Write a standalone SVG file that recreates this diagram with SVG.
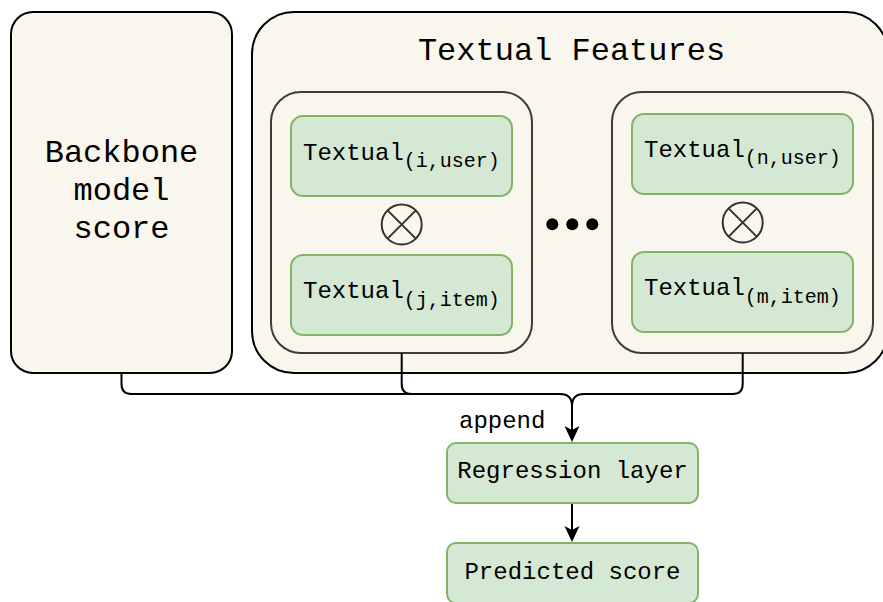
<svg xmlns="http://www.w3.org/2000/svg" width="883" height="602" viewBox="0 0 883 602">
<defs>
<style>
.cream{fill:#f9f7ed;stroke:#000;stroke-width:2}
.inner{fill:#f9f7ed;stroke:#3c3c3c;stroke-width:2}
.green{fill:#d5e8d4;stroke:#82b366;stroke-width:2}
.mono{font-family:"Liberation Mono","DejaVu Sans Mono",monospace;fill:#000}
.t32{font-size:32px}
.t24{font-size:24px}
.sub{font-size:20px}
.conn{fill:none;stroke:#000;stroke-width:2}
.otimes{fill:none;stroke:#333;stroke-width:2}
</style>
<marker id="arr" markerUnits="userSpaceOnUse" viewBox="0 0 16 16" refX="4" refY="8" markerWidth="16" markerHeight="16" orient="auto">
<path d="M0,0.5 L16,8 L0,15.5 L4,8 Z" fill="#000"/>
</marker>
</defs>
<rect width="883" height="602" fill="#fff"/>

<g id="backbone">
<rect class="cream" x="11" y="12" width="221" height="361" rx="22"/>
<text class="mono t32" text-anchor="middle" x="121.5" y="162">Backbone</text>
<text class="mono t32" text-anchor="middle" x="121.5" y="200">model</text>
<text class="mono t32" text-anchor="middle" x="121.5" y="238">score</text>
</g>

<g id="textual-features">
<rect class="cream" x="252" y="12" width="636" height="361" rx="42"/>
<text class="mono t32" text-anchor="middle" x="571.5" y="60">Textual Features</text>
</g>

<g id="pair-1">
<rect class="inner" x="271" y="92" width="261" height="261" rx="30"/>
</g>
<g id="textual-i-user">
<rect class="green" x="291" y="116" width="221" height="80" rx="12"/>
<text class="mono t24" x="303" y="160">Textual<tspan class="sub" dy="7">(i,user)</tspan></text>
</g>
<g id="otimes-1">
<circle class="otimes" cx="401.7" cy="224.5" r="20"/>
<path class="otimes" d="M387.6,210.4 L415.8,238.6 M415.8,210.4 L387.6,238.6"/>
</g>
<g id="textual-j-item">
<rect class="green" x="291" y="255" width="221" height="80" rx="12"/>
<text class="mono t24" x="303" y="298">Textual<tspan class="sub" dy="8">(j,item)</tspan></text>
</g>

<g id="ellipsis">
<circle cx="552.3" cy="224.3" r="6" fill="#000"/>
<circle cx="572.3" cy="224.3" r="6" fill="#000"/>
<circle cx="592.3" cy="224.3" r="6" fill="#000"/>
</g>

<g id="pair-n">
<rect class="inner" x="612" y="92" width="261" height="261" rx="30"/>
</g>
<g id="textual-n-user">
<rect class="green" x="632" y="114" width="221" height="80" rx="12"/>
<text class="mono t24" x="644" y="157">Textual<tspan class="sub" dy="7">(n,user)</tspan></text>
</g>
<g id="otimes-n">
<circle class="otimes" cx="742.7" cy="222.5" r="20"/>
<path class="otimes" d="M728.6,208.4 L756.8,236.6 M756.8,208.4 L728.6,236.6"/>
</g>
<g id="textual-m-item">
<rect class="green" x="632" y="252" width="221" height="80" rx="12"/>
<text class="mono t24" x="644" y="295">Textual<tspan class="sub" dy="8">(m,item)</tspan></text>
</g>

<g id="connectors">
<path class="conn" d="M121.5,373 V384 Q121.5,394 131.5,394 H560 Q572,394 572,406"/>
<path class="conn" d="M401.7,353 V384 Q401.7,394 411.7,394 H560"/>
<path class="conn" d="M742.7,353 V384 Q742.7,394 732.7,394 H584 Q572,394 572,406"/>
<path class="conn" d="M572,406 V430" marker-end="url(#arr)"/>
<path class="conn" d="M572,503 V530" marker-end="url(#arr)"/>
<text class="mono t24" x="459" y="428">append</text>
</g>

<g id="regression-layer">
<rect class="green" x="447" y="443" width="251" height="60" rx="9"/>
<text class="mono t24" text-anchor="middle" x="572.5" y="478">Regression layer</text>
</g>

<g id="predicted-score">
<rect class="green" x="447" y="543" width="251" height="60" rx="9"/>
<text class="mono t24" text-anchor="middle" x="572.5" y="579">Predicted score</text>
</g>
</svg>
